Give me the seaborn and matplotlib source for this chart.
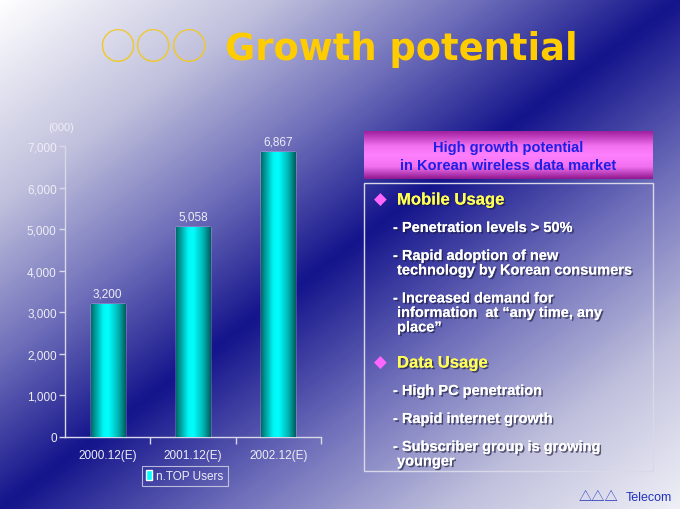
import numpy as np
import matplotlib
matplotlib.use('Agg')
import matplotlib.pyplot as plt
import matplotlib.patheffects as pe
from matplotlib.colors import LinearSegmentedColormap
from matplotlib.patches import Rectangle
from matplotlib.ticker import FuncFormatter
import seaborn as sns

### DATA
periods = ['2000.12(E)', '2001.12(E)', '2002.12(E)']
users = [3200, 5058, 6867]
series_label = 'n.TOP Users'
unit_label = '(000)'
y_ticks = [0, 1000, 2000, 3000, 4000, 5000, 6000, 7000]

title_marks = '○○○'
title_text = 'Growth potential'
header_lines = ['High growth potential', 'in Korean wireless data market']
mobile_heading = 'Mobile Usage'
mobile_items = [
    ['- Penetration levels > 50%'],
    ['- Rapid adoption of new', ' technology by Korean consumers'],
    ['- Increased demand for', ' information  at “any time, any', ' place”'],
]
data_heading = 'Data Usage'
data_items = [
    ['- High PC penetration'],
    ['- Rapid internet growth'],
    ['- Subscriber group is growing', ' younger'],
]
footer_marks = '△△△'
footer_text = 'Telecom'

### STYLE
sns.set_theme(style='white')
plt.rcParams['font.family'] = ['Liberation Sans', 'DejaVu Sans']

W, H = 680, 510
axis_col = '#d8d8e8'
label_col = '#eeeef6'
shadow = [pe.withSimplePatchShadow(offset=(1.2, -1.2), shadow_rgbFace='#1a1a3a', alpha=0.65), pe.Normal()]

fig = plt.figure(figsize=(W / 100, H / 100), dpi=100)

# background: diagonal gradient, dark along the bottom-left / top-right diagonal
bg = fig.add_axes([0, 0, 1, 1], zorder=-10)
bg.set_xlim(0, W)
bg.set_ylim(H, 0)
bg.axis('off')
xx, yy = np.meshgrid(np.linspace(0, 1, W), np.linspace(0, 1, H))
s = xx + yy
d = np.where(s < 1, 1 - s, (s - 1) * 0.9)
bg_cmap = LinearSegmentedColormap.from_list(
    'bg', [(0, '#14148c'), (0.3, '#7070bb'), (0.6, '#c0c0dd'), (1, '#ffffff')])
bg.imshow(d, cmap=bg_cmap, vmin=0, vmax=1, extent=[0, W, H, 0], aspect='auto', zorder=0)

### BAR CHART
ax = fig.add_axes([65 / W, 1 - 438 / H, 256 / W, 291 / H])
ax.patch.set_alpha(0)
sns.barplot(x=periods, y=users, color='#00e0e0', saturation=1, width=0.4,
            label=series_label, ax=ax, zorder=2)

# cylinder shading on each bar
bar_cmap = LinearSegmentedColormap.from_list(
    'bar', [(0, '#006c6c'), (0.35, '#00f5f5'), (0.5, '#00ffff'), (0.8, '#00b0b0'), (1, '#005e5e')])
grad = np.linspace(0, 1, 64).reshape(1, -1)
for p in ax.patches:
    x0, w, h = p.get_x(), p.get_width(), p.get_height()
    im = ax.imshow(grad, cmap=bar_cmap, extent=[x0, x0 + w, 0, h], aspect='auto', zorder=3)
    im.set_clip_path(p)

for p, v in zip(ax.patches, users):
    ax.annotate(f'{v:,}', (p.get_x() + p.get_width() / 2, v), xytext=(0, 3),
                textcoords='offset points', ha='center', va='bottom',
                color=label_col, fontsize=8.5, zorder=5)

ax.set_xlim(-0.5, 2.5)
ax.set_ylim(0, 7000)
ax.set_yticks(y_ticks)
ax.yaxis.set_major_formatter(FuncFormatter(lambda v, _: f'{int(v):,}'))
ax.set_xticks([0.5, 1.5, 2.5], minor=True)
ax.tick_params(axis='y', left=True, direction='out', length=4, width=1, color=axis_col,
               labelcolor=label_col, labelsize=8.5, pad=2)
ax.tick_params(axis='x', which='major', length=0, labelcolor=label_col, labelsize=8.5, pad=9)
ax.tick_params(axis='x', which='minor', bottom=True, direction='out', length=5, width=1, color=axis_col)
ax.set_xlabel('')
ax.set_ylabel('')
ax.grid(False)
for side in ['top', 'right']:
    ax.spines[side].set_visible(False)
for side in ['left', 'bottom']:
    ax.spines[side].set_color(axis_col)
    ax.spines[side].set_linewidth(1)

fig.text(61 / W, 1 - 128 / H, unit_label, ha='center', va='center', color=label_col, fontsize=8)

leg = ax.legend(loc='center', bbox_to_anchor=(185 / W, 1 - 477 / H), bbox_transform=fig.transFigure,
                frameon=True, fancybox=False, edgecolor=axis_col, facecolor='none', fontsize=8.5,
                handlelength=0.45, handleheight=0.9, handletextpad=0.4, borderpad=0.35,
                borderaxespad=0, labelcolor=label_col)
leg.get_frame().set_linewidth(0.8)
for hdl in leg.legend_handles:
    hdl.set_facecolor('#00ffff')

### TITLE
bg.text(99, 59, title_marks, fontsize=26, color='#f2c81e', ha='left', va='baseline',
        family=['Noto Sans CJK JP', 'DejaVu Sans'], zorder=5)
bg.text(225, 60, title_text, fontsize=26.5, weight='bold', color='#ffcc00', ha='left',
        va='baseline', family='DejaVu Sans', zorder=5)

### RIGHT PANEL
hdr_cmap = LinearSegmentedColormap.from_list(
    'hdr', [(0, '#a020a0'), (0.3, '#f070f0'), (0.5, '#ff80ff'), (0.75, '#f070f0'), (1, '#901890')])
bg.imshow(np.linspace(0, 1, 64).reshape(-1, 1), cmap=hdr_cmap, extent=[364, 653, 180, 132],
          aspect='auto', zorder=2)
for i, line in enumerate(header_lines):
    bg.text(508, 152 + i * 18, line, ha='center', va='baseline', color='#1e1ee6',
            fontsize=10.5, weight='bold', zorder=5)

bg.add_patch(Rectangle((364, 184), 289, 288, fill=False, edgecolor=axis_col, linewidth=1, zorder=4))

y = 200
for heading, items in [(mobile_heading, mobile_items), (data_heading, data_items)]:
    bg.text(380, y + 5, '◆', ha='center', va='baseline', color='#ff66ff', fontsize=12,
            family='DejaVu Sans', zorder=5)
    bg.text(397, y + 5.5, heading, ha='left', va='baseline', color='#ffff55', fontsize=12,
            weight='bold', path_effects=shadow, zorder=5)
    y += 28
    for item in items:
        for j, line in enumerate(item):
            bg.text(393, y + 5, line, ha='left', va='baseline', color='white', fontsize=10.5,
                    weight='bold', path_effects=shadow, zorder=5)
            if j < len(item) - 1:
                y += 14.5
        y += 28
    y += 7.5

bg.text(618, 501, footer_marks, ha='right', va='baseline', color='#2233bb', fontsize=9.5,
        family=['Noto Sans CJK JP', 'DejaVu Sans'], zorder=5)
bg.text(672, 501, footer_text, ha='right', va='baseline', color='#2233bb', fontsize=9, zorder=5)

plt.savefig('out.png', dpi=100)
